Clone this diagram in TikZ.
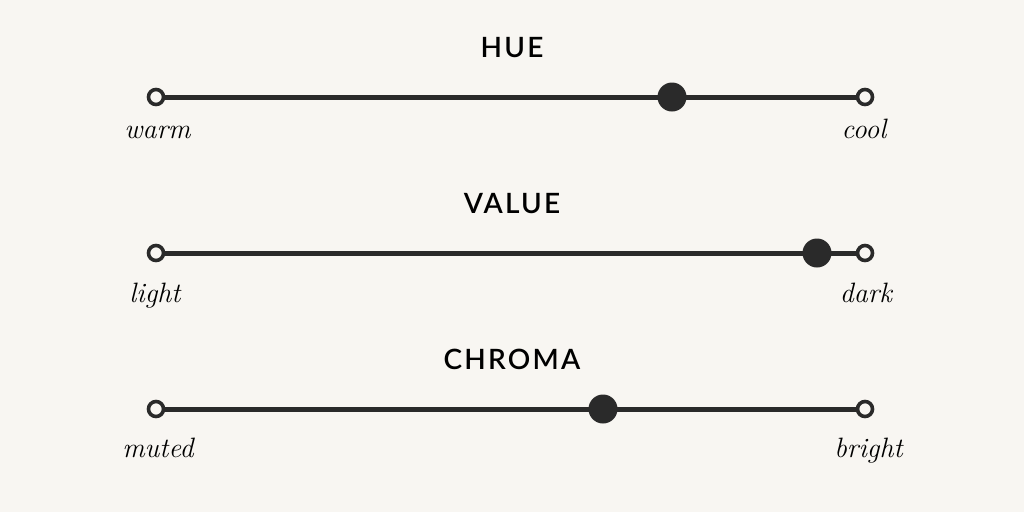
\documentclass[tikz,border=0pt]{standalone}
\usepackage{fontspec}
\setmainfont{Latin Modern Roman}
\newfontfamily\titlefont[LetterSpace=8, BoldFont={Lato Semibold}]{Lato}
\definecolor{bg}{HTML}{F8F6F2}
\definecolor{ink}{HTML}{2A2A2A}
\begin{document}
\begin{tikzpicture}[x=1pt,y=-1pt,
  track/.style={line width=5pt, draw=ink},
  endpt/.style={circle, draw=ink, line width=3.6pt, fill=bg, minimum size=15pt, inner sep=0pt},
  knob/.style={circle, fill=ink, minimum size=29pt, inner sep=0pt},
  ttl/.style={font=\titlefont\bfseries\fontsize{28}{32}\selectfont, text=black, anchor=base, inner sep=0pt},
  lbl/.style={font=\itshape\fontsize{28}{32}\selectfont, text=black, anchor=base, inner sep=0pt}]
\fill[bg] (0,0) rectangle (1024,512);
\useasboundingbox (0,0) rectangle (1024,512);
% HUE
\node[ttl] (t1) at (512,57) {HUE};
\coordinate (a1) at (156,97);
\coordinate (b1) at (865,97);
\draw[track] (a1) -- (b1);
\node[endpt] (l1) at (a1) {};
\node[endpt] (r1) at (b1) {};
\node[knob] (k1) at (672,97) {};
\node[lbl] (w1) at (157.5,138) {warm};
\node[lbl] (c1) at (864,138) {cool};
% VALUE
\node[ttl] (t2) at (512,213) {VALUE};
\coordinate (a2) at (156,253);
\coordinate (b2) at (865,253);
\draw[track] (a2) -- (b2);
\node[endpt] (l2) at (a2) {};
\node[endpt] (r2) at (b2) {};
\node[knob] (k2) at (817,253) {};
\node[lbl] (w2) at (155,302) {light};
\node[lbl] (c2) at (866,302) {dark};
% CHROMA
\node[ttl] (t3) at (512,369) {CHROMA};
\coordinate (a3) at (156,409);
\coordinate (b3) at (865,409);
\draw[track] (a3) -- (b3);
\node[endpt] (l3) at (a3) {};
\node[endpt] (r3) at (b3) {};
\node[knob] (k3) at (603,409) {};
\node[lbl] (w3) at (158,457) {muted};
\node[lbl] (c3) at (868.5,457) {bright};
\end{tikzpicture}
\end{document}
